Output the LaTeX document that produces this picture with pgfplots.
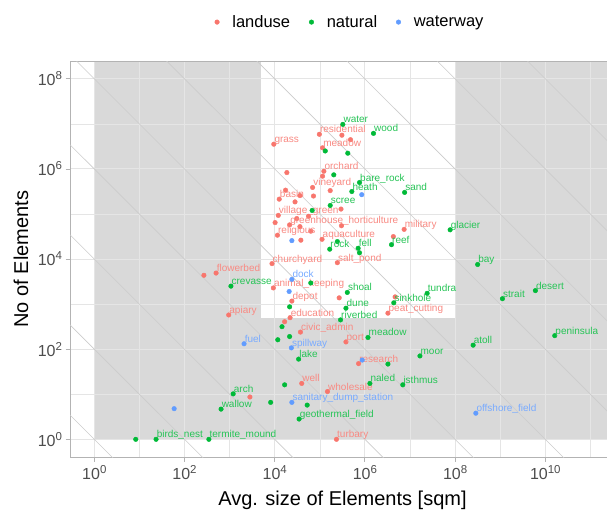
\documentclass[border=0pt]{standalone}
\usepackage{pgfplots}
\pgfplotsset{compat=1.18}
\usepackage{fontspec}
\setmainfont{Liberation Sans}
\definecolor{cland}{HTML}{F8766D}
\definecolor{cnat}{HTML}{00BA38}
\definecolor{cwat}{HTML}{619CFF}
\colorlet{clandt}{cland!85!white}
\colorlet{cnatt}{cnat!85!white}
\colorlet{cwatt}{cwat!85!white}
\definecolor{greyfill}{HTML}{D9D9D9}
\definecolor{grey70}{HTML}{B3B3B3}
\definecolor{gridc}{HTML}{E5E5E5}
\definecolor{diagc}{HTML}{CCCCCC}
\definecolor{tickc}{HTML}{4D4D4D}
\newcommand\pw[1]{10\raisebox{6bp}{\fontsize{11.5bp}{12bp}\selectfont #1}}
\newcommand\lab{\fontsize{10bp}{10bp}\selectfont}
\begin{document}
\begin{tikzpicture}
\begin{axis}[
  set layers,
  at={(70bp,52.7bp)}, anchor=south west,
  width=545bp, height=396bp, scale only axis,
  xmode=log, ymode=log,
  xmin=0.289, xmax=3.51e11, ymin=0.399, ymax=2.455e8,
  xtick={1,1e2,1e4,1e6,1e8,1e10},
  xticklabels={\pw{0},\pw{2},\pw{4},\pw{6},\pw{8},\pw{10}},
  minor xtick={10,1e3,1e5,1e7,1e9,1e11},
  ytick={1,1e2,1e4,1e6,1e8},
  yticklabels={\pw{0},\pw{2},\pw{4},\pw{6},\pw{8}},
  minor ytick={10,1e3,1e5,1e7},
  grid=both,
  major grid style={draw=gridc, line width=1bp},
  minor grid style={draw=gridc, line width=0.6bp},
  axis line style={draw=grey70, line width=1bp},
  tick style={draw=grey70, line width=0.9bp},
  major tick length=4.5bp, minor tick length=0pt,
  tick align=outside, tick pos=left,
  ticklabel style={text=tickc, font=\fontsize{16bp}{16bp}\selectfont},
  xlabel={Avg. size of Elements [sqm]},
  ylabel={No of Elements},
  xlabel style={at={(axis description cs:0.5,-0.1205)}, anchor=base, font=\fontsize{20bp}{20bp}\selectfont},
  ylabel style={at={(axis description cs:-0.09,0.5)}, anchor=center, font=\fontsize{20bp}{20bp}\selectfont},
  legend style={at={(0.514,1.099)}, anchor=center, draw=none, fill=none,
    legend columns=3, font=\fontsize{16.5bp}{18bp}\selectfont,
    /tikz/every odd column/.append style={column sep=11bp},
    /tikz/every even column/.append style={column sep=17bp}},
  every node near coord/.style={anchor=base west, inner sep=0pt, xshift=0.5bp, yshift=1.5bp, font=\lab},
]
\begin{pgfonlayer}{axis background}
\fill[greyfill] (axis cs:1,1) rectangle (axis cs:3.51e11,2.455e8);
\fill[white] (axis cs:5000,500) rectangle (axis cs:1e8,2.455e8);
\end{pgfonlayer}
\draw[diagc, line width=0.6bp] (axis cs:0.1,10) -- (axis cs:1e12,1e-12);
\draw[diagc, line width=0.6bp] (axis cs:0.1,1e3) -- (axis cs:1e12,1e-10);
\draw[diagc, line width=0.6bp] (axis cs:0.1,1e5) -- (axis cs:1e12,1e-8);
\draw[diagc, line width=0.6bp] (axis cs:0.1,1e7) -- (axis cs:1e12,1e-6);
\draw[diagc, line width=0.6bp] (axis cs:0.1,1e9) -- (axis cs:1e12,1e-4);
\draw[diagc, line width=0.6bp] (axis cs:0.1,1e11) -- (axis cs:1e12,1e-2);
\draw[diagc, line width=0.6bp] (axis cs:0.1,1e13) -- (axis cs:1e12,1);
\draw[diagc, line width=0.6bp] (axis cs:0.1,1e15) -- (axis cs:1e12,1e2);
\draw[diagc, line width=0.6bp] (axis cs:0.1,1e17) -- (axis cs:1e12,1e4);
\draw[diagc, line width=0.6bp] (axis cs:0.1,1e19) -- (axis cs:1e12,1e6);

\addplot[only marks, color=cland, mark=*, mark size=2.3bp, mark options={solid, draw=cland, fill=cland},
  nodes near coords, point meta=explicit symbolic,
  nodes near coords style={text=clandt}] coordinates {
(9.55e3,3.55e6)[grass]
(9.77e4,5.89e6)[residential]
(3.09e5,5.62e6)[]
(4.79e5,4.47e6)[]
(1.15e5,2.95e6)[meadow]
(1.23e5,8.91e5)[orchard]
(1.15e5,6.92e5)[]
(1.86e4,8.32e5)[]
(6.92e4,3.89e5)[vineyard]
(1.70e5,3.31e5)[]
(1.74e4,3.39e5)[]
(1.26e4,2.14e5)[basin]
(3.63e4,2.57e5)[]
(7.24e4,2.51e5)[]
(2.82e4,1.86e5)[]
(1.20e4,9.33e4)[village\_green]
(2.95e5,1.29e5)[]
(5.62e4,8.91e4)[]
(3.09e4,7.94e4)[]
(1.02e4,6.46e4)[]
(2.14e4,5.75e4)[greenhouse\_horticulture]
(3.63e4,5.25e4)[]
(3.02e5,5.50e4)[]
(6.31e4,4.17e4)[]
(1.15e4,3.39e4)[religious]
(7.41e6,4.57e4)[military]
(4.27e6,3.16e4)[]
(3.80e4,2.63e4)[]
(1.12e5,2.75e4)[aquaculture]
(8.71e3,7.94e3)[churchyard]
(2.45e5,8.32e3)[salt\_pond]
(501,4.90e3)[flowerbed]
(269,4.37e3)[]
(9.33e3,2.29e3)[animal\_keeping]
(2.40e4,1.17e3)[depot]
(2.19e4,501)[education]
(1.66e4,407)[]
(955,575)[apiary]
(3.72e4,240)[civic\_admin]
(3.98e4,17.4)[well]
(1.48e5,11.5)[wholesale]
(2.82e3,8.7)[]
(2.69e5,1.38e3)[]
(4.68e6,1.45e3)[]
(3.24e6,631)[peat\_cutting]
(3.80e5,145)[port]
(7.24e5,47.9)[research]
(2.34e5,1)[turbary]
};
\addlegendentry{landuse}
\addplot[only marks, color=cnat, mark=*, mark size=2.3bp, mark options={solid, draw=cnat, fill=cnat},
  nodes near coords, point meta=explicit symbolic,
  nodes near coords style={text=cnatt}] coordinates {
(3.24e5,9.77e6)[water]
(1.55e6,6.17e6)[wood]
(1.32e5,2.51e6)[]
(4.17e5,2.24e6)[]
(2.04e5,7.41e5)[]
(7.59e5,5.01e5)[bare\_rock]
(5.13e5,3.16e5)[heath]
(7.59e6,3.02e5)[sand]
(1.70e5,1.55e5)[scree]
(6.76e4,1.20e5)[]
(7.76e7,4.47e4)[glacier]
(3.89e6,2.09e4)[reef]
(2.45e5,2.45e4)[]
(1.66e5,1.66e4)[rock]
(7.08e5,1.74e4)[fell]
(7.59e5,1.38e4)[]
(3.16e8,7.59e3)[bay]
(1.07e3,2.51e3)[crevasse]
(6.31e4,2.95e3)[]
(2.14e4,871)[]
(1.45e4,316)[]
(1.17e4,162)[]
(2.14e4,191)[]
(3.39e4,60.3)[lake]
(1.66e4,16.2)[]
(1.20e3,10.2)[arch]
(8.13e3,6.61)[]
(5.25e4,5.75)[]
(646,4.68)[wallow]
(3.47e4,2.82)[geothermal\_field]
(8.3,1)[]
(23.4,1)[birds\_nest]
(347,1)[termite\_mound]
(4.07e5,1.82e3)[shoal]
(3.80e5,813)[dune]
(2.88e5,447)[riverbed]
(2.40e7,1.74e3)[tundra]
(4.37e6,1.07e3)[sinkhole]
(1.12e9,1.32e3)[strait]
(6.03e9,2.00e3)[desert]
(1.17e6,182)[meadow]
(2.51e8,123)[atoll]
(1.62e10,200)[peninsula]
(1.66e7,70.8)[moor]
(3.24e6,46.8)[]
(1.29e6,17.4)[naled]
(6.92e6,16.2)[isthmus]
};
\addlegendentry{natural}
\addplot[only marks, color=cwat, mark=*, mark size=2.3bp, mark options={solid, draw=cwat, fill=cwat},
  nodes near coords, point meta=explicit symbolic,
  nodes near coords style={text=cwatt}] coordinates {
(8.51e5,2.69e5)[]
(2.40e4,2.57e4)[]
(2.40e4,3.55e3)[dock]
(2.09e4,1.91e3)[]
(2.09e3,132)[fuel]
(2.34e4,107)[spillway]
(2.40e4,6.61)[sanitary\_dump\_station]
(58.9,4.79)[]
(8.71e5,57.5)[]
(2.88e8,3.80)[offshore\_field]
};
\addlegendentry{waterway}
\end{axis}
\pgfresetboundingbox
\useasboundingbox (0,0) rectangle (607bp,510bp);
\end{tikzpicture}
\end{document}
